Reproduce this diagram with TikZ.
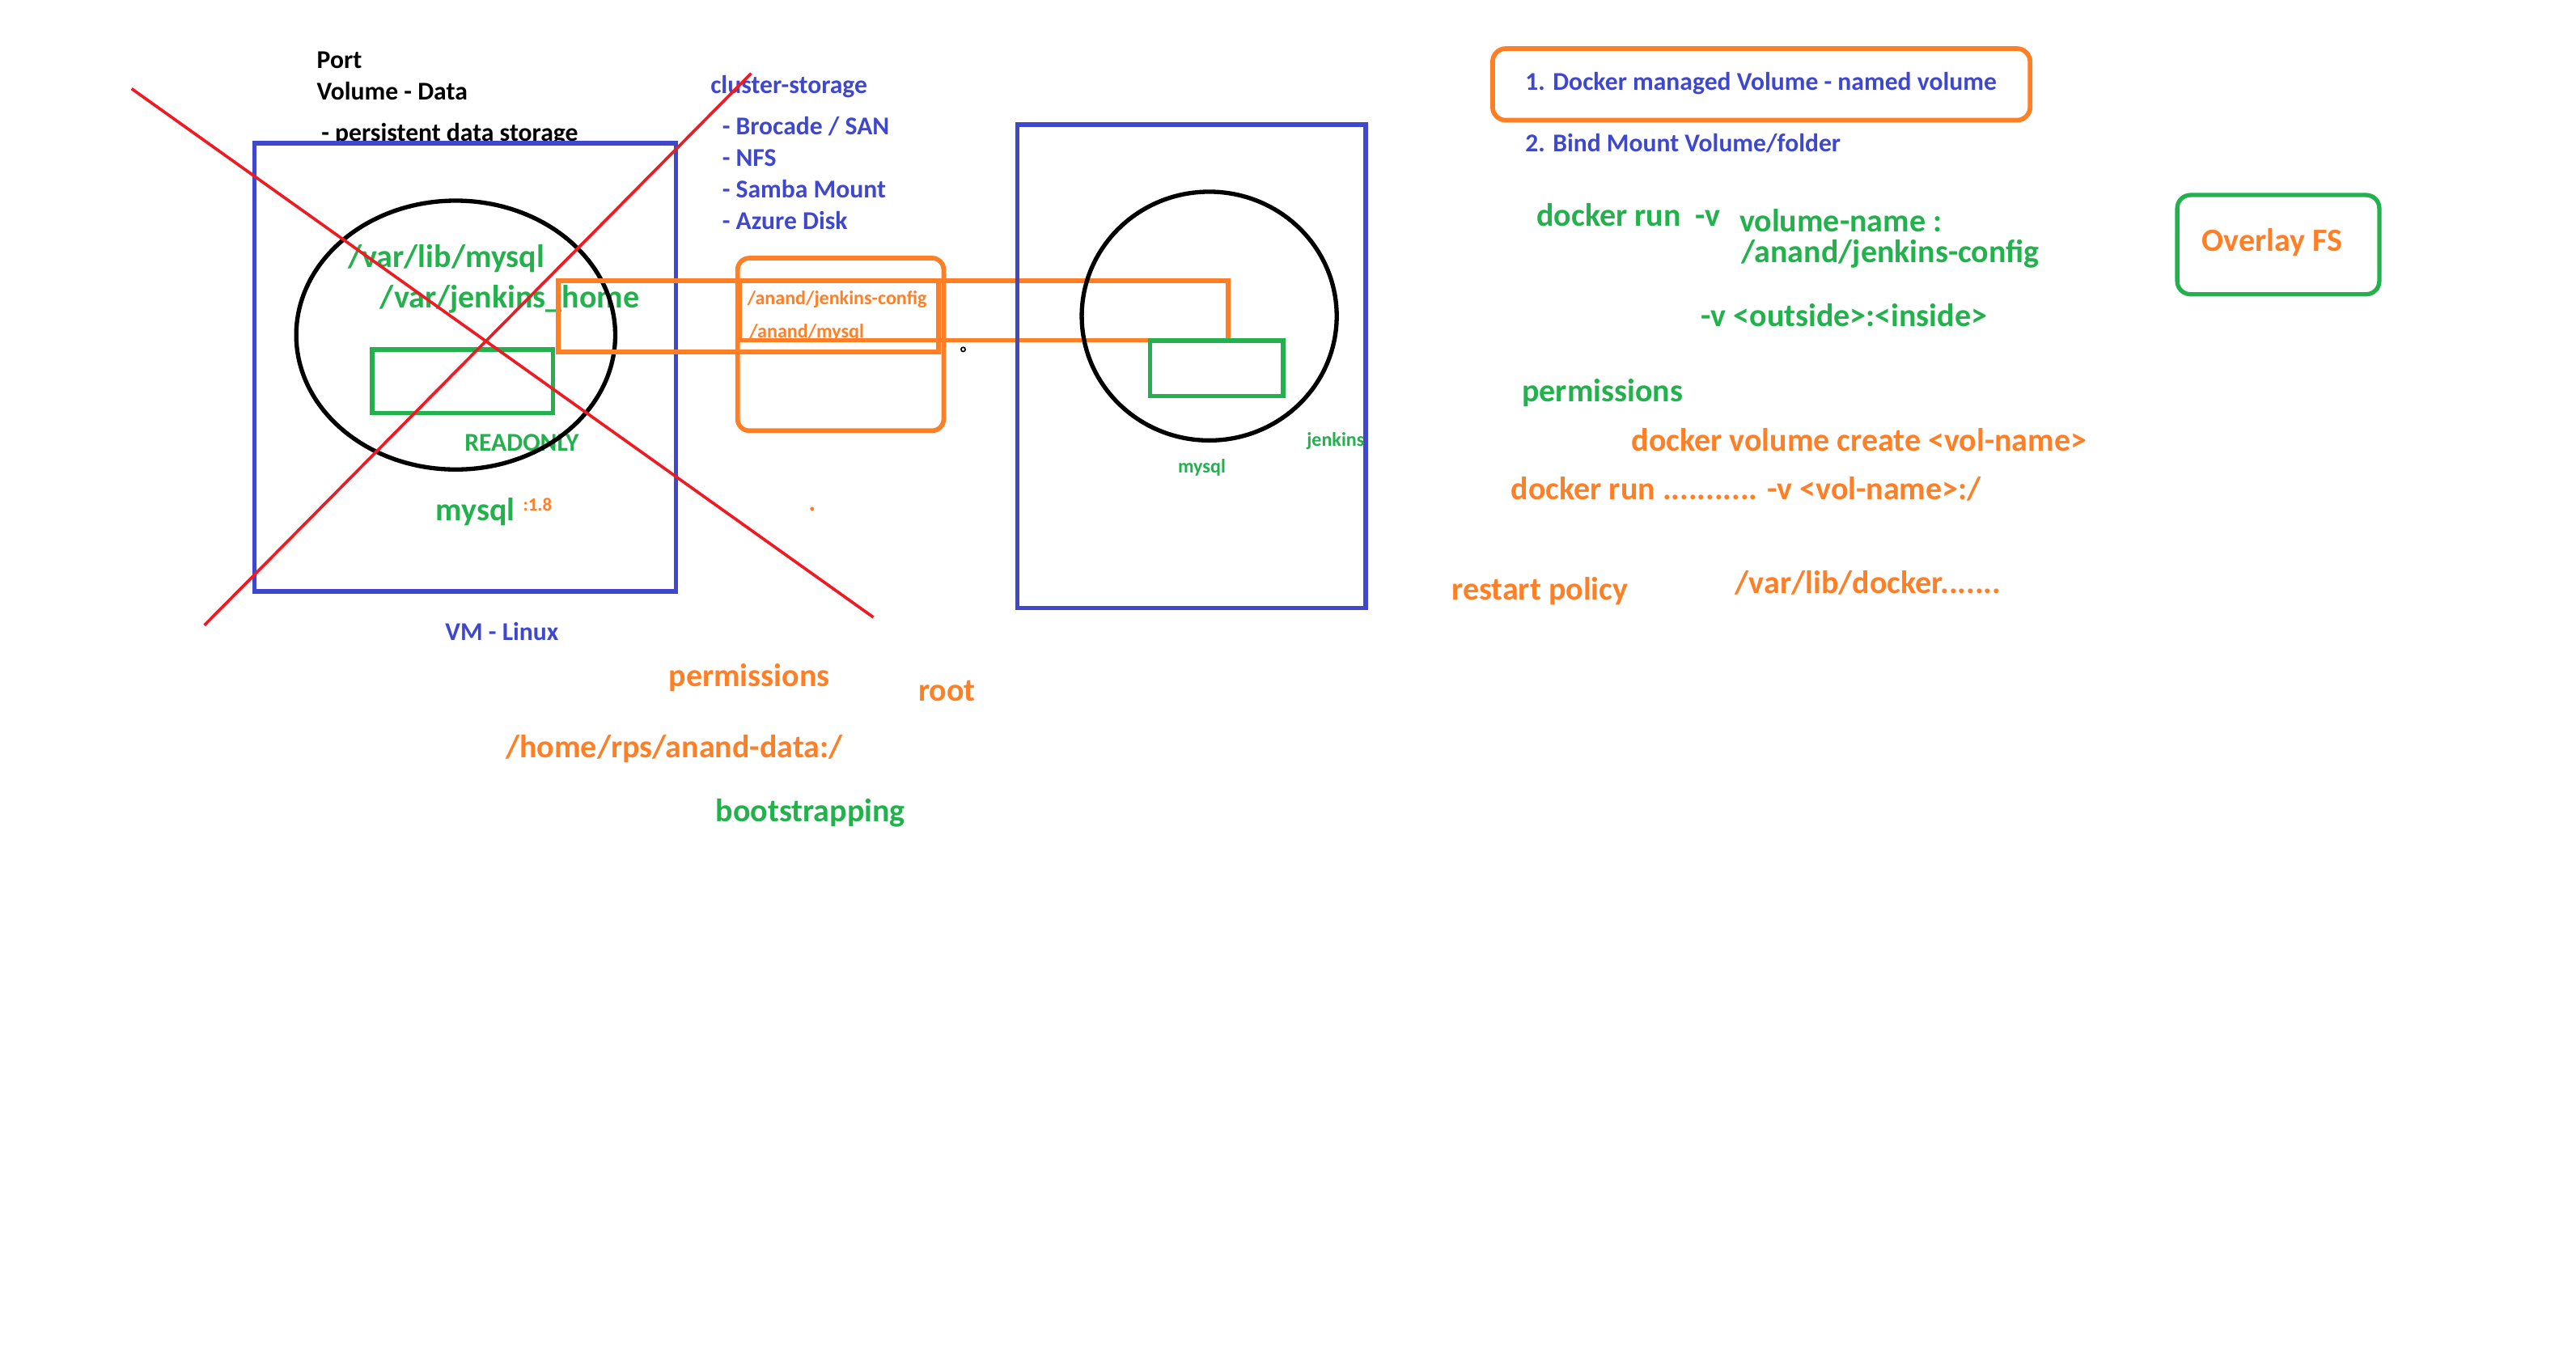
\documentclass[tikz,border=0pt]{standalone}
\usepackage{fontspec}
\setmainfont{Carlito}
\usepackage{tikz}
\usetikzlibrary{positioning,calc}
\definecolor{paintblue}{HTML}{3F48CC}
\definecolor{paintgreen}{HTML}{22B14C}
\definecolor{paintorange}{HTML}{FF7F27}
\definecolor{paintred}{HTML}{ED1C24}

\begin{document}
\begin{tikzpicture}[x=0.5pt, y=-0.5pt,
    txt/.style={anchor=base west, inner sep=0pt, font=\bfseries\fontsize{7.75}{9}\selectfont},
    bigtxt/.style={txt, font=\bfseries\fontsize{9.8}{11}\selectfont},
    smalltxt/.style={txt, font=\bfseries\fontsize{5.9}{7}\selectfont},
    vmbox/.style={draw=paintblue, line width=1.3pt},
    ctr/.style={draw=black, line width=1.3pt},
    mnt/.style={draw=paintorange, line width=1.4pt},
    volbox/.style={draw=paintgreen, line width=1.3pt},
    strike/.style={draw=paintred, line width=0.9pt}
]
    \useasboundingbox (0,0) rectangle (1560,820.7);

    % Notes top left
    \node [txt] (port) at (191.5,41.4) {Port};
    \node [txt] (voldata) at (191.5,60.4) {Volume - Data};
    \node [txt] (persist) at (194.3,85.6) {- persistent data storage};

    % Cluster storage list
    \node [txt, text=paintblue] (cluster) at (429.9,56.5) {cluster-storage};
    \foreach \i/\label in {0/{Brocade / SAN}, 1/NFS, 2/Samba Mount, 3/Azure Disk} {
        \node [txt, text=paintblue] (store\i) at (437,81.8+\i*19.1) {- \label};
    }

    % VM - Linux
    \node [bigtxt, text=paintgreen] (libmysql) at (210.4,161.7) {/var/lib/mysql};
    \node [bigtxt, text=paintgreen] (jhome) at (229.8,186.4) {/var/jenkins\_home};
    \node [txt, text=paintgreen] (readonly) at (281,272.9) {READONLY};
    \node [bigtxt, text=paintgreen] (mysqlimg) at (263.5,315.3) {mysql};
    \node [smalltxt, font=\bfseries\fontsize{5.6}{7}\selectfont, text=paintorange] (tag) at (316.4,309.5) {:1.8};
    \node [txt, text=paintblue] (vmlinux) at (269.3,388) {VM - Linux};

    \draw [vmbox] (154.2,86.7) rectangle (409.4,358.2);
    \draw [ctr] (276,202.9) ellipse [x radius=96.6, y radius=81.4];
    \draw [volbox] (225.4,211.6) rectangle (334.8,250.2);

    % Host folders
    \node [smalltxt, text=paintorange] (cfgdir) at (452.2,184.6) {/anand/jenkins-config};
    \node [smalltxt, text=paintorange] (sqldir) at (453.5,204.4) {/anand/mysql};
    \draw [mnt, rounded corners=3.5pt] (446.7,156.3) rectangle (571.5,260.8);
    \draw [mnt] (338,170) rectangle (568.5,213);
    \draw [mnt] (448,170) rectangle (743.6,206);
    \draw [line width=0.4pt] (583.3,211.6) circle [radius=1.3];
    \fill [paintorange] (491.8,308.1) circle [radius=1.2];

    % Second VM
    \draw [vmbox] (616,75.5) rectangle (827,368.3);
    \draw [ctr] (732.3,191.4) ellipse [x radius=77.2, y radius=75.3];
    \draw [volbox] (696.3,206.3) rectangle (777,239.9);
    \node [smalltxt, text=paintgreen] (mysqlc) at (713,286.3) {mysql};
    \node [smalltxt, text=paintgreen] (jenkinsc) at (791,270.2) {jenkins};

    % Notes below
    \node [bigtxt, text=paintorange] (permsl) at (404.6,415.6) {permissions};
    \node [bigtxt, text=paintorange] (root) at (555.8,424.4) {root};
    \node [bigtxt, text=paintorange] (homedir) at (305.9,458.6) {/home/rps/anand-data:/};
    \node [bigtxt, text=paintgreen] (boot) at (433.1,497.3) {bootstrapping};

    % Volume types
    \node [txt, text=paintblue] (named) at (923.3,54.6) {1. Docker managed Volume - named volume};
    \draw [mnt, rounded corners=4pt] (903.9,29.4) rectangle (1229.4,72.8);
    \node [txt, text=paintblue] (bind) at (923.3,92.1) {2. Bind Mount Volume/folder};

    % Commands
    \node [bigtxt, text=paintgreen] (runv) at (930.2,136.7) {docker run\ \ -v};
    \node [bigtxt, text=paintgreen] (volname) at (1053,140.6) {volume-name :};
    \node [bigtxt, text=paintgreen] (cfgpath) at (1054.2,158.8) {/anand/jenkins-config};
    \node [bigtxt, text=paintgreen] (outin) at (1029.8,197.9) {-v <outside>:<inside>};
    \node [bigtxt, text=paintgreen] (permsr) at (921.3,243.3) {permissions};
    \node [bigtxt, text=paintorange] (create) at (987.6,273.1) {docker volume create <vol-name>};
    \node [bigtxt, text=paintorange] (runvol) at (914.7,302.6) {docker run ........... -v <vol-name>:/};
    \node [bigtxt, text=paintorange] (restart) at (878.7,363.4) {restart policy};
    \node [bigtxt, text=paintorange] (libdocker) at (1050.4,359.5) {/var/lib/docker.......};

    % Overlay FS
    \node [bigtxt, text=paintorange] (overlay) at (1333.2,152.2) {Overlay FS};
    \draw [volbox, rounded corners=4pt] (1318.5,118.1) rectangle (1440.9,178.2);

    % Crossed out
    \coordinate (xa1) at (79.7,53.7);
    \coordinate (xa2) at (528.9,373.8);
    \coordinate (xb1) at (454.9,44.4);
    \coordinate (xb2) at (123.8,378.6);
    \draw [strike] (xa1) -- (xa2);
    \draw [strike] (xb1) -- (xb2);
\end{tikzpicture}
\end{document}
